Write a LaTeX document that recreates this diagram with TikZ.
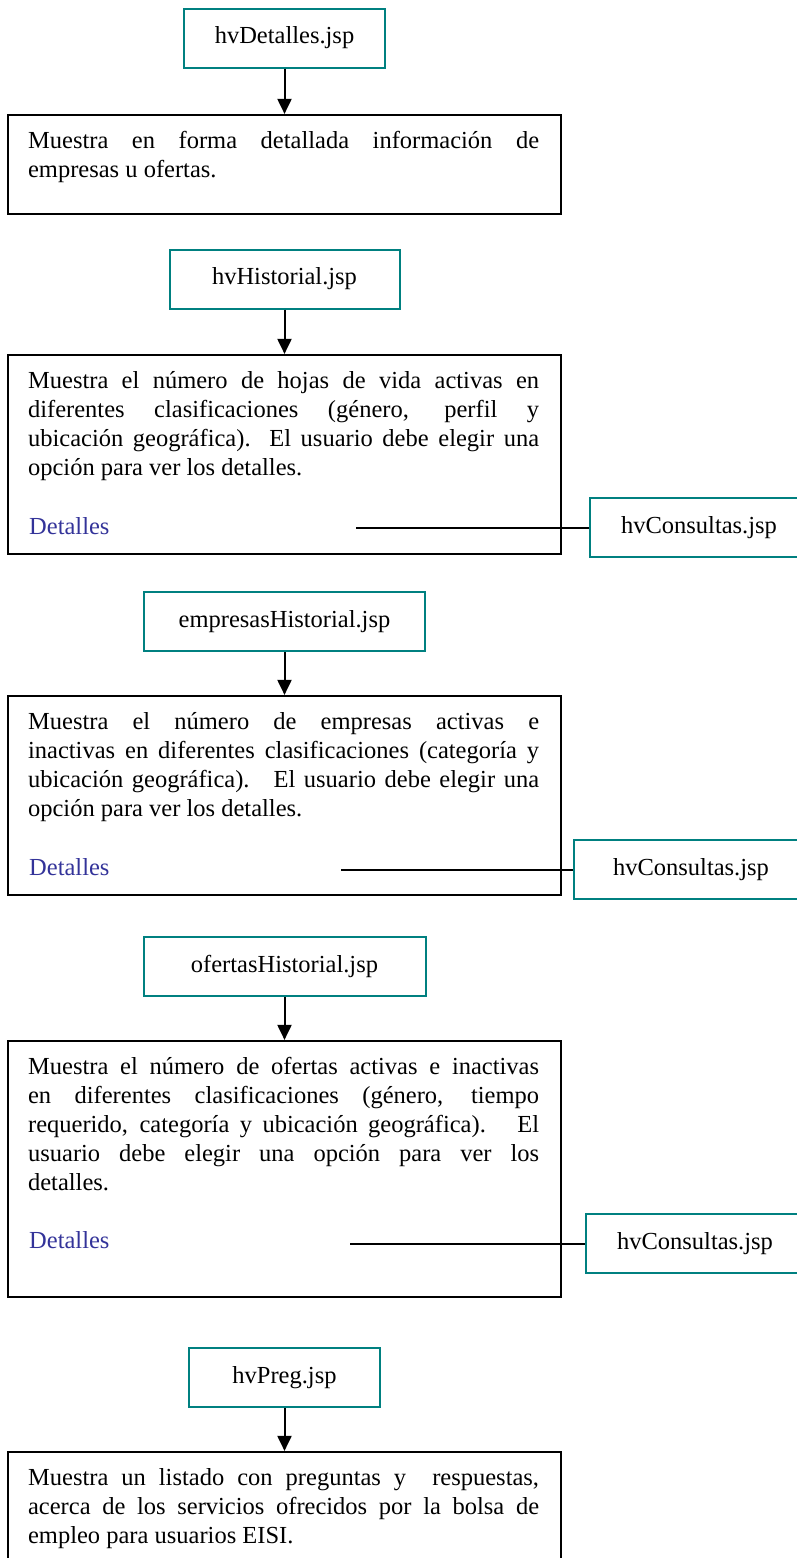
\documentclass[tikz,border=0pt]{standalone}
\usepackage{fontspec}
\setmainfont{Liberation Serif}
\usetikzlibrary{arrows.meta, positioning}

% Colores
\definecolor{pagteal}{RGB}{0,128,128}
\definecolor{linkblue}{RGB}{51,51,153}

\begin{document}
\begin{tikzpicture}[x=1pt, y=-1pt, >={Triangle[length=15pt, width=14pt]},
    font=\fontsize{24.5}{29}\selectfont,
    pagina/.style={draw=pagteal, line width=2pt, minimum height=59pt, inner sep=0pt},
    caja/.style={draw=black, line width=2.2pt, minimum width=553pt, inner sep=0pt},
    texto/.style={text width=511pt, align=justify, inner sep=0pt},
    enlace/.style={text=linkblue, inner sep=0pt, anchor=base west},
    flecha/.style={->, line width=2pt},
    union/.style={line width=2pt}
]
\useasboundingbox (0,0) rectangle (797,1558);
\clip (0,0) rectangle (797,1558);

% ============ hvDetalles ============
\node[pagina, minimum width=201pt] (detalles) at (284.5, 38) {hvDetalles.jsp};
\node[caja, minimum height=99pt] (d1) at (284.5, 164.5) {};
\node[texto, below right=17pt and 21pt of d1.north west] (t1) {Muestra en forma detallada información de\linebreak empresas u ofertas.};
\draw[flecha] (detalles.south) -- (d1.north);

% ============ hvHistorial ============
\node[pagina, minimum width=230pt] (historial) at (284.5, 279) {hvHistorial.jsp};
\node[caja, minimum height=199pt] (d2) at (284.5, 454.5) {};
\node[texto, below right=17pt and 21pt of d2.north west] (t2) {Muestra el número de hojas de vida activas en\linebreak diferentes clasificaciones (género, perfil y\linebreak ubicación geográfica). El usuario debe elegir una\linebreak opción para ver los detalles.};
\node[enlace] (det2) at (29, 534) {Detalles};
\node[pagina, minimum width=218pt] (consultas1) at (699, 527.5) {hvConsultas.jsp};
\coordinate (l2) at (356, 527.5);
\draw[flecha] (historial.south) -- (d2.north);
\draw[union] (l2) -- (consultas1.west);

% ============ empresasHistorial ============
\node[pagina, minimum width=281pt] (empresas) at (284.5, 621.5) {empresasHistorial.jsp};
\node[caja, minimum height=199pt] (d3) at (284.5, 795.5) {};
\node[texto, below right=17pt and 21pt of d3.north west] (t3) {Muestra el número de empresas activas e\linebreak inactivas en diferentes clasificaciones (categoría y\linebreak ubicación geográfica).~ El usuario debe elegir una\linebreak opción para ver los detalles.};
\node[enlace] (det3) at (29, 875) {Detalles};
\node[pagina, minimum width=234pt] (consultas2) at (691, 869.5) {hvConsultas.jsp};
\coordinate (l3) at (341, 869.5);
\draw[flecha] (empresas.south) -- (d3.north);
\draw[union] (l3) -- (consultas2.west);

% ============ ofertasHistorial ============
\node[pagina, minimum width=282pt] (ofertas) at (284.5, 966.5) {ofertasHistorial.jsp};
\node[caja, minimum height=256pt] (d4) at (284.5, 1169) {};
\node[texto, below right=17pt and 21pt of d4.north west] (t4) {Muestra el número de ofertas activas e inactivas\linebreak en diferentes clasificaciones (género, tiempo\linebreak requerido, categoría y ubicación geográfica).~ El\linebreak usuario debe elegir una opción para ver los\linebreak detalles.};
\node[enlace] (det4) at (29, 1248) {Detalles};
\node[pagina, minimum width=218pt] (consultas3) at (695, 1243.5) {hvConsultas.jsp};
\coordinate (l4) at (350, 1243.5);
\draw[flecha] (ofertas.south) -- (d4.north);
\draw[union] (l4) -- (consultas3.west);

% ============ hvPreg ============
\node[pagina, minimum width=191pt] (preg) at (284.5, 1377.5) {hvPreg.jsp};
\node[caja, minimum height=148pt] (d5) at (284.5, 1526) {};
\node[texto, below right=17pt and 21pt of d5.north west] (t5) {Muestra un listado con preguntas y~ respuestas,\linebreak acerca de los servicios ofrecidos por la bolsa de\linebreak empleo para usuarios EISI.};
\draw[flecha] (preg.south) -- (d5.north);

\end{tikzpicture}
\end{document}
